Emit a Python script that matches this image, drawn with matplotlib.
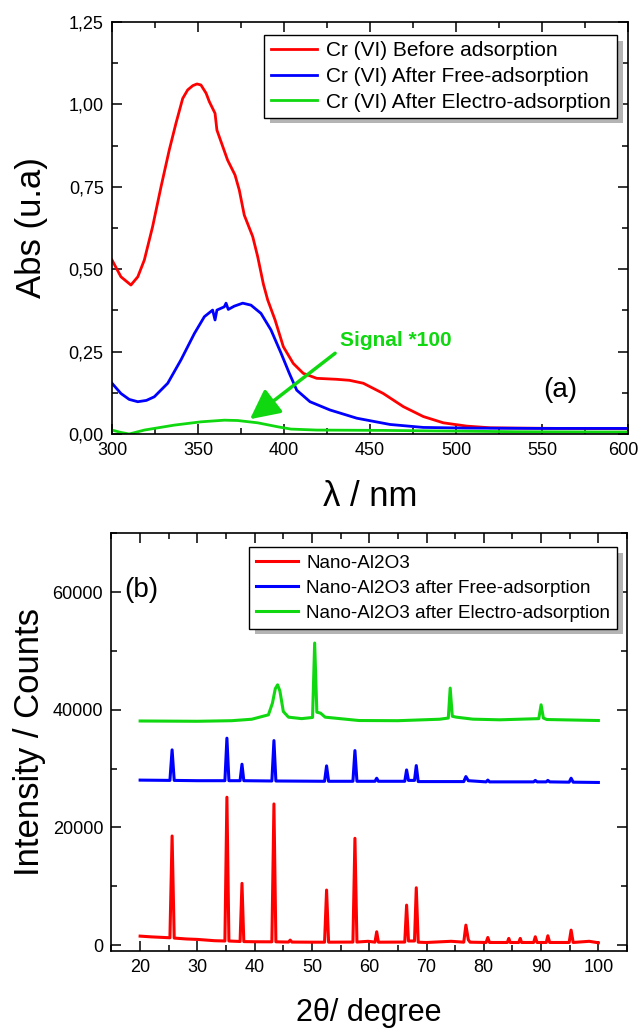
import matplotlib
matplotlib.use('Agg')
import matplotlib.pyplot as plt
import matplotlib.transforms as mtransforms
from matplotlib.ticker import MultipleLocator, FuncFormatter

plt.rcParams['font.family'] = ['Liberation Sans', 'DejaVu Sans']

# ---- (a) UV-Vis absorbance ----
wl_before = [300, 305.2, 311, 315, 318.8, 323.6, 328.5, 333.3, 337.2, 341.1, 344, 347,
             349.4, 351.7, 354.7, 356.6, 359.9, 361, 364.4, 367.2, 371.5, 374, 376.9,
             381.8, 384.7, 388, 390.5, 394.8, 399.6, 405.4, 411.2, 419, 430.6, 438,
             446.1, 457.7, 469.4, 481, 492.6, 506.2, 519.8, 535, 560, 600]
abs_before = [0.528, 0.477, 0.452, 0.477, 0.528, 0.629, 0.750, 0.862, 0.943, 1.018, 1.044,
              1.057, 1.062, 1.059, 1.034, 1.008, 0.973, 0.922, 0.872, 0.831, 0.786, 0.740,
              0.664, 0.599, 0.538, 0.455, 0.407, 0.346, 0.265, 0.214, 0.184, 0.169, 0.166,
              0.163, 0.154, 0.123, 0.083, 0.053, 0.034, 0.024, 0.019, 0.018, 0.017, 0.016]

wl_free = [300, 305.2, 310, 315, 320, 324.6, 332.4, 340.1, 347.9, 353.7, 358.5, 359.9, 361,
           365.3, 366.3, 367.6, 371.1, 376, 380.8, 386.6, 392.4, 398.3, 403.1, 407.4,
           415.1, 426.7, 442.3, 461.6, 481, 506, 550, 600]
abs_free = [0.154, 0.123, 0.105, 0.098, 0.102, 0.113, 0.154, 0.225, 0.305, 0.356, 0.376,
            0.346, 0.376, 0.386, 0.397, 0.378, 0.388, 0.397, 0.391, 0.366, 0.316, 0.245,
            0.184, 0.133, 0.098, 0.073, 0.048, 0.029, 0.020, 0.018, 0.017, 0.017]

wl_electro = [300, 305, 310, 318.8, 336.2, 351.7, 365.3, 373, 384.7, 396.3, 404, 419,
              457.7, 535, 600]
abs_electro = [0.012, 0.005, 0.0, 0.012, 0.027, 0.037, 0.042, 0.041, 0.034, 0.022, 0.015,
               0.012, 0.011, 0.007, 0.006]

uv_labels = ['Cr (VI) Before adsorption', 'Cr (VI) After Free-adsorption',
             'Cr (VI) After Electro-adsorption']
uv_ticks = [300, 350, 400, 450, 500, 550, 600]

# ---- (b) XRD patterns (vertices) ----
tt_raw = [20, 22, 25.2, 25.58, 25.95, 28, 30, 33, 34.8, 35.15, 35.5, 37.45, 37.78, 38.1,
          40, 43.0, 43.36, 43.7, 45.9, 46.2, 46.5, 50, 52.2, 52.55, 52.9, 57.15, 57.5,
          57.85, 59.8, 61.0, 61.3, 61.6, 66.2, 66.52, 66.85, 67.9, 68.21, 68.55, 70, 74.3,
          76.5, 76.87, 77.3, 77.6, 80.4, 80.7, 81.0, 84.1, 84.36, 84.6, 86.1, 86.36, 86.6,
          88.7, 88.99, 89.3, 90.9, 91.18, 91.5, 94.9, 95.24, 95.6, 98.4, 100]
cnt_raw = [1530, 1400, 1250, 18550, 1200, 1050, 970, 750, 700, 25140, 700, 620, 10500, 600,
           570, 560, 24000, 560, 520, 850, 520, 500, 500, 9360, 500, 520, 18160, 520, 650,
           500, 2270, 500, 520, 6800, 700, 700, 9750, 500, 450, 650, 500, 3400, 900, 500,
           450, 1300, 450, 450, 1140, 450, 450, 1140, 450, 450, 1420, 450, 450, 1590, 450,
           450, 2550, 450, 650, 400]

tt_free = [20, 25.2, 25.58, 25.95, 30, 34.8, 35.15, 35.5, 37.45, 37.78, 38.1, 43.0, 43.36,
           43.7, 52.2, 52.55, 52.9, 57.15, 57.5, 57.85, 61.0, 61.3, 61.6, 66.2, 66.52, 66.85,
           67.9, 68.21, 68.55, 76.5, 76.87, 77.3, 80.4, 80.7, 81.0, 88.7, 88.99, 89.3, 90.9,
           91.18, 91.5, 94.9, 95.24, 95.6, 100]
cnt_free = [28050, 28000, 33190, 28000, 27950, 27950, 35180, 27950, 27950, 30750, 27950,
            27900, 34770, 27900, 27850, 30470, 27850, 27850, 33070, 27850, 27850, 28370,
            27850, 27850, 29780, 28000, 28000, 30520, 27800, 27800, 28650, 27950, 27750,
            28050, 27750, 27750, 28000, 27750, 27750, 28000, 27750, 27700, 28370, 27700,
            27650]

tt_electro = [20, 30, 36, 39.5, 42.4, 43.1, 43.6, 44.0, 44.4, 45.0, 45.9, 48.2, 50.1, 50.47,
              50.85, 51.5, 52.3, 58.2, 65, 72.3, 73.8, 74.13, 74.5, 75.2, 78.1, 82.8, 89.6,
              90.0, 90.4, 91.0, 100]
cnt_electro = [38100, 38050, 38150, 38400, 39150, 41140, 43600, 44250, 43200, 39710, 38750,
               38500, 38700, 51350, 39600, 39430, 38750, 38180, 38150, 38400, 38600, 43690,
               38900, 38750, 38410, 38300, 38500, 40850, 38600, 38350, 38180]

xrd_labels = ['Nano-Al2O3', 'Nano-Al2O3 after Free-adsorption',
              'Nano-Al2O3 after Electro-adsorption']
xrd_ticks = [20, 30, 40, 50, 60, 70, 80, 90, 100]

RED, BLUE, GREEN = '#ff0000', '#0000ff', '#10d810'


def style_axes(ax):
    for s in ax.spines.values():
        s.set_linewidth(1.2)
    ax.tick_params(which='both', direction='in', top=True, right=True, labelsize=13,
                   width=1.1, pad=6)
    ax.tick_params(which='major', length=7)
    ax.tick_params(which='minor', length=4)


def add_legend(ax, anchor, size, pad, spacing):
    leg = ax.legend(loc='upper right', bbox_to_anchor=anchor, borderaxespad=0,
                    fontsize=size, handlelength=2.2, handletextpad=0.45, borderpad=pad,
                    labelspacing=spacing, fancybox=False, framealpha=1, edgecolor='black',
                    shadow={'ox': 4, 'oy': -4, 'facecolor': '#b4b4b4',
                            'edgecolor': 'none', 'alpha': 1})
    leg.get_frame().set_linewidth(1.0)
    return leg


fig = plt.figure(figsize=(6.4, 10.28), dpi=100)

# top panel
ax1 = fig.add_axes([0.175, 0.5778, 0.8063, 0.4008])
ax1.plot(wl_before, abs_before, color=RED, lw=2, label=uv_labels[0])
ax1.plot(wl_free, abs_free, color=BLUE, lw=2, label=uv_labels[1])
ax1.plot(wl_electro, abs_electro, color=GREEN, lw=2, label=uv_labels[2])
ax1.set_xlim(300, 600)
ax1.set_ylim(0, 1.25)
ax1.set_xticks(uv_ticks)
ax1.xaxis.set_minor_locator(MultipleLocator(25))
ax1.yaxis.set_major_locator(MultipleLocator(0.25))
ax1.yaxis.set_minor_locator(MultipleLocator(0.125))
ax1.yaxis.set_major_formatter(FuncFormatter(lambda v, p: f'{v:.2f}'.replace('.', ',')))
style_axes(ax1)
# keep the last wavelength label inside the picture
last = ax1.xaxis.get_major_ticks()[-1].label1
last.set_transform(last.get_transform() +
                   mtransforms.ScaledTranslation(-0.045, 0, fig.dpi_scale_trans))
ax1.set_xlabel('λ / nm', fontsize=25, labelpad=15)
ax1.set_ylabel('Abs (u.a)', fontsize=25)
ax1.yaxis.set_label_coords(-0.124, 0.5)
add_legend(ax1, (0.9787, 0.9684), 15, 0.3, 0.32)

ax1.text(432.6, 0.283, 'Signal *100', color=GREEN, fontsize=15, fontweight='bold',
         ha='left', va='center')
ax1.annotate('', xy=(380.2, 0.045), xytext=(429.7, 0.245),
             arrowprops=dict(arrowstyle='-|>,head_length=0.9,head_width=0.45',
                             color=GREEN, lw=2.5, mutation_scale=20,
                             shrinkA=0, shrinkB=0))
ax1.text(560.5, 0.133, '(a)', fontsize=20, ha='center', va='center')

# bottom panel
ax2 = fig.add_axes([0.1742, 0.0749, 0.8055, 0.4063])
ax2.plot(tt_raw, cnt_raw, color=RED, lw=2.2, label=xrd_labels[0])
ax2.plot(tt_free, cnt_free, color=BLUE, lw=2.2, label=xrd_labels[1])
ax2.plot(tt_electro, cnt_electro, color=GREEN, lw=2.2, label=xrd_labels[2])
ax2.set_xlim(15, 105)
ax2.set_ylim(-1000, 70000)
ax2.set_xticks(xrd_ticks)
ax2.xaxis.set_minor_locator(MultipleLocator(5))
ax2.yaxis.set_major_locator(MultipleLocator(20000))
ax2.yaxis.set_minor_locator(MultipleLocator(10000))
ax2.yaxis.set_major_formatter(FuncFormatter(lambda v, p: f'{v:.0f}'))
style_axes(ax2)
ax2.set_xlabel('2θ/ degree', fontsize=22, va='baseline')
ax2.xaxis.set_label_coords(0.5, -0.168)
ax2.set_ylabel('Intensity / Counts', fontsize=25)
ax2.yaxis.set_label_coords(-0.127, 0.5)
add_legend(ax2, (0.9806, 0.9665), 13.6, 0.37, 0.42)
ax2.text(17.3, 60400, '(b)', fontsize=20, ha='left', va='center')

fig.savefig('out.png', dpi=100, facecolor='white')
